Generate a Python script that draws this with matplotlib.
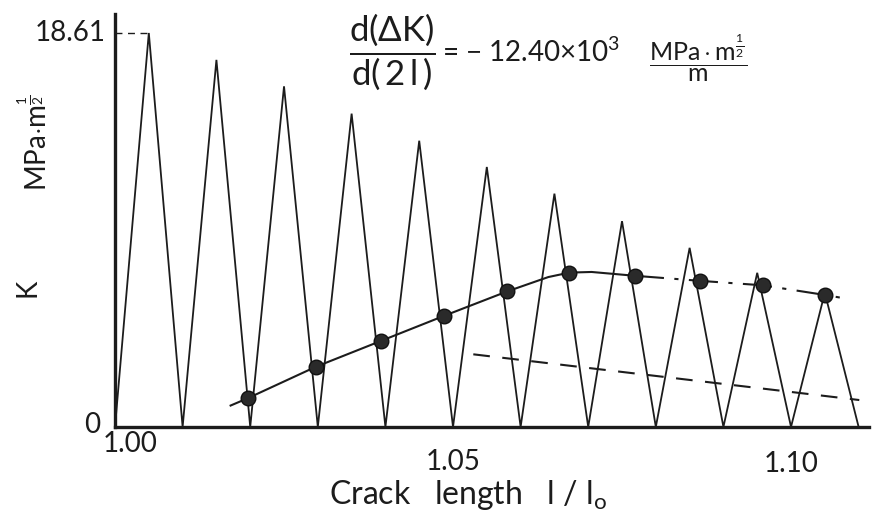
import matplotlib
matplotlib.use('Agg')
import matplotlib.pyplot as plt
import numpy as np

# %%
# values
valley_x = [1.00, 1.01, 1.02, 1.03, 1.04, 1.05, 1.06, 1.07, 1.08, 1.09, 1.10, 1.11]
peak_x = [1.005, 1.015, 1.025, 1.035, 1.045, 1.055, 1.065, 1.075, 1.085, 1.095, 1.105]
peak_k = [18.61, 17.34, 16.09, 14.80, 13.52, 12.28, 11.02, 9.72, 8.46, 7.28, 6.34]

# measured points (dots)
dot_x = [1.0196, 1.0297, 1.0394, 1.0487, 1.0580, 1.0672, 1.0769, 1.0866, 1.0958, 1.1051]
dot_k = [1.35, 2.84, 4.07, 5.25, 6.40, 7.29, 7.14, 6.90, 6.69, 6.23]

# solid fitted curve
fit_x = [1.0171, 1.0196, 1.0297, 1.0394, 1.0487, 1.0580, 1.0641, 1.0672, 1.0705, 1.0769]
fit_k = [1.01, 1.35, 2.84, 4.07, 5.25, 6.40, 7.08, 7.29, 7.32, 7.14]

# dash-dot extension
ext_x = [1.0769, 1.0866, 1.0958, 1.1051, 1.1078]
ext_k = [7.14, 6.90, 6.69, 6.23, 6.08]

# dashed trend line
trend_x = [1.0530, 1.1101]
trend_k = [3.43, 1.27]

k_max = 18.61
x_labels = ['1.00', '1.05', '1.10']

# %%
plt.rcParams['font.family'] = ['Lato', 'DejaVu Sans']
plt.rcParams['mathtext.fontset'] = 'custom'
plt.rcParams['mathtext.rm'] = 'Lato'
plt.rcParams['mathtext.it'] = 'Lato'
plt.rcParams['mathtext.sf'] = 'Lato'

ink = '#1c1c1c'

fig = plt.figure(figsize=(8.74, 5.2), dpi=100)
ax = fig.add_axes([0.1316, 0.179, 0.8624, 0.7938])
ax.set_xlim(1.00, 1.1115)
ax.set_ylim(0, 19.5)

# zigzag load signal
zz_x = [valley_x[0]]
zz_k = [0]
for px, pk, vx in zip(peak_x, peak_k, valley_x[1:]):
    zz_x += [px, vx]
    zz_k += [pk, 0]
ax.plot(zz_x, zz_k, color=ink, lw=1.3, solid_joinstyle='miter', clip_on=False)

ax.plot(fit_x, fit_k, color=ink, lw=1.5)
ax.plot(ext_x, ext_k, color=ink, lw=1.5, dashes=(14, 5, 2, 5))
ax.plot(trend_x, trend_k, color=ink, lw=1.5, dashes=(8, 6))
ax.plot(dot_x, dot_k, 'o', ms=10.5, color='#2a2a2a', mec='#111111', mew=1)

# 18.61 reference
ax.plot([1.00, peak_x[0]], [k_max, k_max], color=ink, lw=1.0, dashes=(5, 4))

for side in ['top', 'right']:
    ax.spines[side].set_visible(False)
for side in ['left', 'bottom']:
    ax.spines[side].set_linewidth(2.4)
    ax.spines[side].set_color(ink)
ax.set_xticks([])
ax.set_yticks([])

tfs = 20
ax.text(-0.012, k_max, '18.61', transform=ax.get_yaxis_transform(), ha='right', va='center',
        fontsize=tfs, color=ink)
ax.text(-0.03, 0.1, '0', transform=ax.get_yaxis_transform(), ha='center', va='center',
        fontsize=tfs, color=ink)
for lx, ly, lab in zip([1.0022, 1.05, 1.10], [-0.8, -1.65, -1.75], x_labels):
    ax.text(lx, ly, lab, ha='center', va='center', fontsize=tfs, color=ink)

fig.text(0.535, 0.048, r'Crack   length   l / l$_\mathrm{o}$', ha='center', va='center',
         fontsize=23, color=ink)
fig.text(0.032, 0.446, 'K', rotation=90, ha='center', va='center', fontsize=20, color=ink)
fig.text(0.040, 0.725, r'MPa$\cdot$m$^{\frac{1}{2}}$', rotation=90, ha='center', va='center',
         fontsize=20, color=ink)

# formula
fig.text(0.449, 0.9, r'$\dfrac{\mathrm{d(\Delta K)}}{\mathrm{d(\,2\,l\,)}}$', ha='center', va='center',
         fontsize=25, color=ink)
fig.text(0.506, 0.9, r'= $-$ 12.40$\times$10$^{3}$', ha='left', va='center', fontsize=20, color=ink)
fig.text(0.799, 0.888, r'$\dfrac{\mathrm{MPa\cdot m^{\frac{1}{2}}}}{\mathrm{m}}$', ha='center', va='center',
         fontsize=18, color=ink)

fig.savefig('out.png', dpi=100)
